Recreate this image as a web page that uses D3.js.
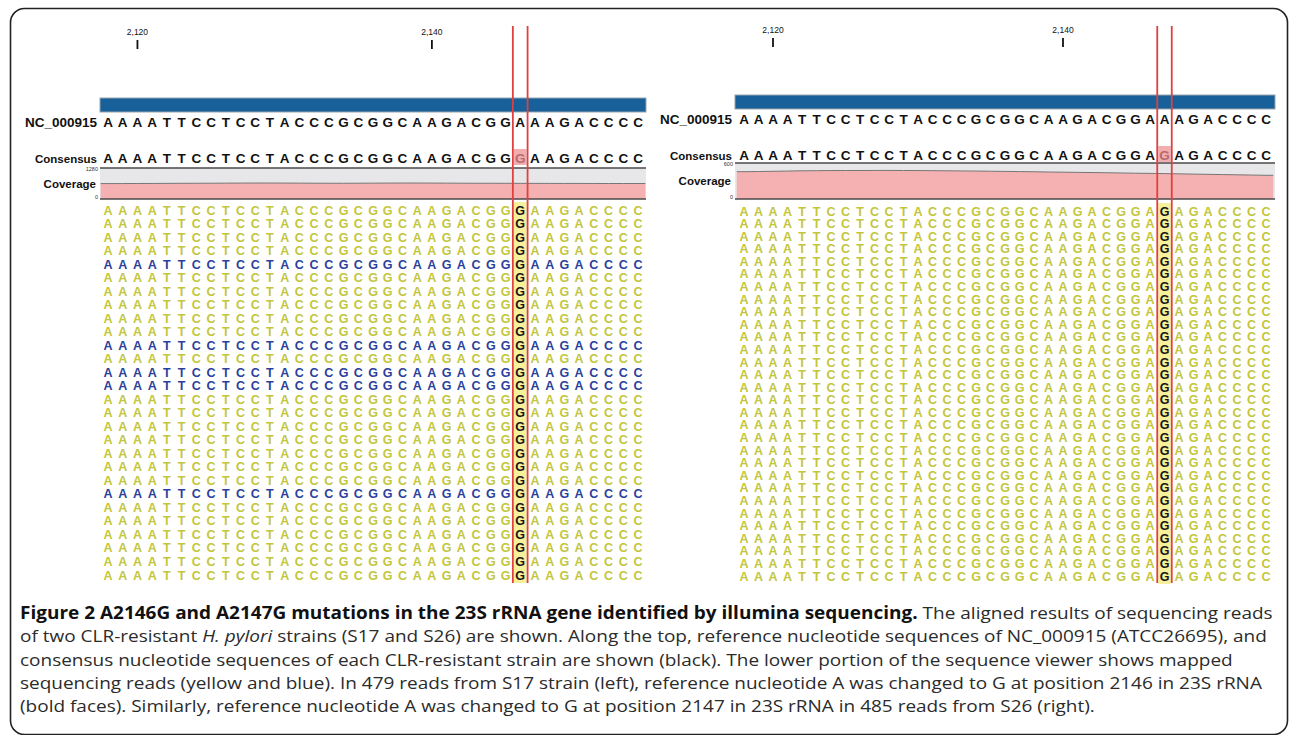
<!DOCTYPE html>
<html>
<head>
<meta charset="utf-8">
<script src="https://cdn.jsdelivr.net/npm/d3@7/dist/d3.min.js"></script>
<style>
  body { margin: 0; background: #fff; }
  svg { display: block; }
</style>
</head>
<body>
<div id="chart"></div>
<script>
var svgWidth = 1290;
var svgHeight = 735;

// ---- data ----
var positions = [2118, 2119, 2120, 2121, 2122, 2123, 2124, 2125, 2126, 2127, 2128, 2129, 2130,
  2131, 2132, 2133, 2134, 2135, 2136, 2137, 2138, 2139, 2140, 2141, 2142, 2143, 2144, 2145,
  2146, 2147, 2148, 2149, 2150, 2151, 2152, 2153, 2154];
var rulerTicks = [2120, 2140];
var referenceSeq = "AAAATTCCTCCTACCCGCGGCAAGACGGAAAGACCCC";
var leftConsensusSeq = "AAAATTCCTCCTACCCGCGGCAAGACGGGAAGACCCC";
var rightConsensusSeq = "AAAATTCCTCCTACCCGCGGCAAGACGGAGAGACCCC";
var leftMutation = 2146;
var rightMutation = 2147;
var leftCoverageMax = 1280;
var rightCoverageMax = 600;
var leftCoverage = [636, 638, 640, 642, 645, 648, 650, 652, 655, 658, 660, 660, 658, 655, 652, 650,
  650, 652, 655, 658, 660, 660, 658, 655, 652, 650, 650, 648, 646, 645, 644, 643, 642, 641, 640, 640, 640];
var rightCoverage = [455, 458, 462, 466, 470, 472, 474, 475, 475, 476, 476, 475, 474, 472, 470, 468,
  466, 463, 460, 457, 454, 450, 447, 444, 441, 438, 434, 430, 427, 423, 419, 415, 411, 407, 403, 399, 395];
// read strand colour per row: y = yellow, b = blue
var leftReadStrands = ["y", "y", "y", "y", "b", "y", "y", "y", "y", "y", "b", "y", "b", "b",
  "y", "y", "y", "y", "y", "y", "y", "b", "y", "y", "y", "y", "y", "y"];
var rightReadStrands = ["y", "y", "y", "y", "y", "y", "y", "y", "y", "y", "y", "y", "y", "y", "y",
  "y", "y", "y", "y", "y", "y", "y", "y", "y", "y", "y", "y", "y", "y", "y"];

var strandColor = { y: "#c3c63c", b: "#2b3f9c" };
var seqFont = "'Liberation Sans', Arial, sans-serif";

var svg = d3.select("#chart")
  .append("svg")
  .attr("width", svgWidth)
  .attr("height", svgHeight);

// outer frame
svg.append("rect")
  .attr("x", 10.5)
  .attr("y", 8.5)
  .attr("width", 1277)
  .attr("height", 726)
  .attr("rx", 14)
  .attr("fill", "none")
  .attr("stroke", "#222")
  .attr("stroke-width", 1.6);

function drawPanel(cfg, consensusSeq, coverage, coverageMax, strands, mutation) {
  var g = svg.append("g");

  var x = d3.scalePoint().domain(positions).range([cfg.x0, cfg.x1]);
  var step = x.step();
  var refBases = referenceSeq.split("");
  var consBases = consensusSeq.split("");

  // ruler
  var ruler = g.append("g");
  ruler.selectAll("text")
    .data(rulerTicks)
    .enter()
    .append("text")
    .attr("x", d => x(d))
    .attr("y", cfg.rulerY)
    .attr("text-anchor", "middle")
    .attr("font-family", seqFont)
    .attr("font-size", "8.5px")
    .attr("fill", "#111")
    .text(d => d3.format(",")(d));
  ruler.selectAll("line")
    .data(rulerTicks)
    .enter()
    .append("line")
    .attr("x1", d => x(d))
    .attr("x2", d => x(d))
    .attr("y1", cfg.rulerY + 5)
    .attr("y2", cfg.rulerY + 14)
    .attr("stroke", "#111")
    .attr("stroke-width", 1.8);

  // blue reference bar
  g.append("rect")
    .attr("x", cfg.barX0)
    .attr("y", cfg.barY)
    .attr("width", cfg.barX1 - cfg.barX0)
    .attr("height", 14)
    .attr("fill", "#17609a")
    .attr("stroke", "#9aa3ab")
    .attr("stroke-width", 1);

  // reference row
  g.append("text")
    .attr("x", cfg.barX0 - 3)
    .attr("y", cfg.ncY + 5)
    .attr("text-anchor", "end")
    .attr("font-family", seqFont)
    .attr("font-weight", "bold")
    .attr("font-size", "13.5px")
    .attr("fill", "#111")
    .text("NC_000915");
  g.append("g").selectAll("text")
    .data(refBases)
    .enter()
    .append("text")
    .attr("x", (d, i) => x(positions[i]))
    .attr("y", cfg.ncY + 5)
    .attr("text-anchor", "middle")
    .attr("font-family", seqFont)
    .attr("font-weight", "bold")
    .attr("font-size", "13.5px")
    .attr("fill", "#111")
    .text(d => d);

  // consensus row
  g.append("rect")
    .attr("x", x(mutation) - step / 2 + 1)
    .attr("y", cfg.consY - 9)
    .attr("width", step - 2)
    .attr("height", 16)
    .attr("fill", "#f2aeae");
  g.append("text")
    .attr("x", cfg.barX0 - 3)
    .attr("y", cfg.consY + 5)
    .attr("text-anchor", "end")
    .attr("font-family", seqFont)
    .attr("font-weight", "bold")
    .attr("font-size", "11.5px")
    .attr("fill", "#111")
    .text("Consensus");
  g.append("g").selectAll("text")
    .data(consBases)
    .enter()
    .append("text")
    .attr("x", (d, i) => x(positions[i]))
    .attr("y", cfg.consY + 5)
    .attr("text-anchor", "middle")
    .attr("font-family", seqFont)
    .attr("font-weight", "bold")
    .attr("font-size", "13.5px")
    .attr("fill", (d, i) => positions[i] === mutation ? "#b96a6e" : "#111")
    .text(d => d);

  // coverage track
  var yCov = d3.scaleLinear().domain([0, coverageMax]).range([cfg.covBottom, cfg.covTop]);
  var xCov = d3.scaleLinear()
    .domain([positions[0] - 0.5, positions[positions.length - 1] + 0.5])
    .range([cfg.x0 - step / 2, cfg.x1 + step / 2]);
  var covPoints = [{ p: positions[0] - 0.5, v: coverage[0] }]
    .concat(coverage.map((v, i) => ({ p: positions[i], v: v })))
    .concat([{ p: positions[positions.length - 1] + 0.5, v: coverage[coverage.length - 1] }]);

  g.append("rect")
    .attr("x", cfg.barX0)
    .attr("y", cfg.covTop)
    .attr("width", cfg.barX1 - cfg.barX0)
    .attr("height", cfg.covBottom - cfg.covTop)
    .attr("fill", "#e7e7e9");
  g.append("path")
    .datum(covPoints)
    .attr("fill", "#f5b1b1")
    .attr("d", d3.area()
      .x(d => xCov(d.p))
      .y0(cfg.covBottom)
      .y1(d => yCov(d.v))
      .curve(d3.curveMonotoneX));
  g.append("path")
    .datum(covPoints)
    .attr("fill", "none")
    .attr("stroke", "#777")
    .attr("stroke-width", 1)
    .attr("d", d3.line()
      .x(d => xCov(d.p))
      .y(d => yCov(d.v))
      .curve(d3.curveMonotoneX));
  [cfg.covTop, cfg.covBottom].forEach(function(yy) {
    g.append("line")
      .attr("x1", cfg.barX0)
      .attr("x2", cfg.barX1)
      .attr("y1", yy)
      .attr("y2", yy)
      .attr("stroke", "#4a4a4a")
      .attr("stroke-width", 1.6);
  });
  g.append("text")
    .attr("x", cfg.barX0 - 4)
    .attr("y", (cfg.covTop + cfg.covBottom) / 2 + 4)
    .attr("text-anchor", "end")
    .attr("font-family", seqFont)
    .attr("font-weight", "bold")
    .attr("font-size", "11.5px")
    .attr("fill", "#111")
    .text("Coverage");
  g.append("text")
    .attr("x", cfg.barX0 - 2)
    .attr("y", cfg.covTop + 3)
    .attr("text-anchor", "end")
    .attr("font-family", seqFont)
    .attr("font-size", "5.5px")
    .attr("fill", "#333")
    .text(coverageMax);
  g.append("text")
    .attr("x", cfg.barX0 - 2)
    .attr("y", cfg.covBottom)
    .attr("text-anchor", "end")
    .attr("font-family", seqFont)
    .attr("font-size", "5.5px")
    .attr("fill", "#333")
    .text("0");

  // mapped reads
  var rows = d3.range(strands.length);
  var y = d3.scalePoint().domain(rows).range([cfg.readsTop, cfg.readsBottom]);

  g.append("rect")
    .attr("x", x(mutation) - step / 2 + 1)
    .attr("y", cfg.readsTop - 8)
    .attr("width", step - 2)
    .attr("height", cfg.readsBottom - cfg.readsTop + 16)
    .attr("fill", "#f7f09a");

  var rowGroups = g.append("g").selectAll("g")
    .data(strands)
    .enter()
    .append("g")
    .attr("transform", (d, i) => `translate(0, ${y(i) + 4.5})`);

  rowGroups.selectAll("text")
    .data(function(strand) {
      return consBases.map((b, j) => ({ base: b, pos: positions[j], strand: strand }));
    })
    .enter()
    .append("text")
    .attr("x", d => x(d.pos))
    .attr("text-anchor", "middle")
    .attr("font-family", seqFont)
    .attr("font-weight", "bold")
    .attr("font-size", "12.5px")
    .attr("fill", d => d.pos === mutation ? "#151515" : strandColor[d.strand])
    .text(d => d.base);

  // red marker lines round the mutated column
  [-1, 1].forEach(function(side) {
    g.append("line")
      .attr("x1", x(mutation) + side * step / 2)
      .attr("x2", x(mutation) + side * step / 2)
      .attr("y1", 26)
      .attr("y2", 583)
      .attr("stroke", "#e0403f")
      .attr("stroke-width", 1.8);
  });
}

drawPanel({
  x0: 108, x1: 638, rulerY: 35,
  barX0: 100, barX1: 646, barY: 98,
  ncY: 122, consY: 158, covTop: 168, covBottom: 199,
  readsTop: 210, readsBottom: 575
}, leftConsensusSeq, leftCoverage, leftCoverageMax, leftReadStrands, leftMutation);

drawPanel({
  x0: 744, x1: 1266, rulerY: 33,
  barX0: 735, barX1: 1275, barY: 95,
  ncY: 119, consY: 155, covTop: 163, covBottom: 199,
  readsTop: 211, readsBottom: 576
}, rightConsensusSeq, rightCoverage, rightCoverageMax, rightReadStrands, rightMutation);

// ---- caption ----
var captionLines = [
  [["b", "Figure 2 A2146G and A2147G mutations in the 23S rRNA gene identified by illumina sequencing."],
   ["n", " The aligned results of sequencing reads"]],
  [["n", "of two CLR-resistant "], ["i", "H. pylori"],
   ["n", " strains (S17 and S26) are shown. Along the top, reference nucleotide sequences of NC_000915 (ATCC26695), and"]],
  [["n", "consensus nucleotide sequences of each CLR-resistant strain are shown (black). The lower portion of the sequence viewer shows mapped"]],
  [["n", "sequencing reads (yellow and blue). In 479 reads from S17 strain (left), reference nucleotide A was changed to G at position 2146 in 23S rRNA"]],
  [["n", "(bold faces). Similarly, reference nucleotide A was changed to G at position 2147 in 23S rRNA in 485 reads from S26 (right)."]]
];

var caption = svg.append("g");
var lineTexts = caption.selectAll("text")
  .data(captionLines)
  .enter()
  .append("text")
  .attr("font-family", "'Open Sans', 'Noto Sans', sans-serif")
  .attr("font-size", "17px")
  .attr("fill", "#2b2b2b");

lineTexts.selectAll("tspan")
  .data(d => d)
  .enter()
  .append("tspan")
  .attr("font-weight", d => d[0] === "b" ? "bold" : "normal")
  .attr("font-style", d => d[0] === "i" ? "italic" : "normal")
  .attr("fill", d => d[0] === "b" ? "#111" : null)
  .style("white-space", "pre")
  .text(d => d[1]);

// squeeze horizontally so the first line spans the same width as in the figure
var firstWidth = lineTexts.node().getComputedTextLength();
var squeeze = 1253 / firstWidth;
lineTexts.attr("transform", (d, i) => `translate(20, ${619 + i * 23.3}) scale(${squeeze}, 1)`);
</script>
</body>
</html>
